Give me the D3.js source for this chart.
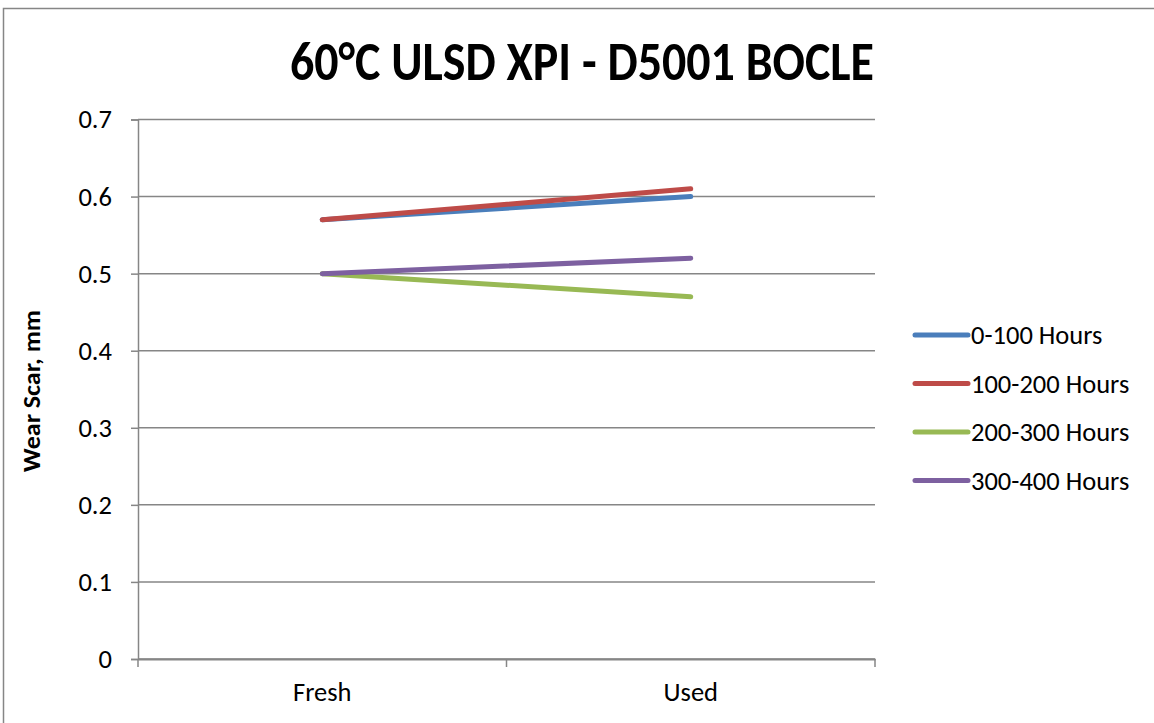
<!DOCTYPE html>
<html><head><meta charset="utf-8">
<script src="https://cdn.jsdelivr.net/npm/d3@7"></script>
<style>body{margin:0;background:#fff;overflow:hidden}svg{display:block}</style>
</head><body>
<svg id="c" width="1154" height="723"></svg>
<script>
const categories = ["Fresh", "Used"];
const seriesNames = ["0-100 Hours", "100-200 Hours", "200-300 Hours", "300-400 Hours"];
const s0 = [0.57, 0.60];
const s1 = [0.57, 0.61];
const s2 = [0.50, 0.47];
const s3 = [0.50, 0.52];
const yTicks = [0, 0.1, 0.2, 0.3, 0.4, 0.5, 0.6, 0.7];
const colors = ["#4A7EBB", "#BE4B48", "#98B954", "#7D60A0"];
const series = [s0, s1, s2, s3];

const svg = d3.select("#c");
const font = "Carlito, 'Liberation Sans', 'Open Sans', sans-serif";
// chart border
svg.append("rect").attr("x", 3.5).attr("y", 8.5).attr("width", 1160).attr("height", 730)
  .attr("fill", "#fff").attr("stroke", "#868686").attr("stroke-width", 1.5);

const L = 138, R = 875, T = 119.5, B = 659;
const x = d3.scaleBand().domain(categories).range([L, R]);
const y = d3.scaleLinear().domain([0, 0.7]).range([B, T]);

// gridlines
svg.append("g").selectAll("line").data(yTicks).join("line")
  .attr("x1", L).attr("x2", R).attr("y1", d => y(d)).attr("y2", d => y(d))
  .attr("stroke", "#868686").attr("stroke-width", 1.5);

// y axis
const ya = svg.append("g").attr("transform", `translate(${L},0)`)
  .call(d3.axisLeft(y).tickValues(yTicks).tickSize(7).tickPadding(19).tickFormat(d => d === 0 ? "0" : d3.format(".1f")(d)));
ya.select(".domain").attr("stroke", "#868686").attr("stroke-width", 1.5);
ya.selectAll(".tick line").attr("stroke", "#868686").attr("stroke-width", 1.5);
ya.selectAll("text").attr("font-family", font).attr("font-size", 26.5).attr("fill", "#000");

// x axis
const xa = svg.append("g").attr("transform", `translate(0,${B})`)
  .call(d3.axisBottom(x).tickSize(0).tickPadding(23));
xa.select(".domain").attr("stroke", "#868686").attr("stroke-width", 2);
xa.selectAll("text").attr("font-family", font).attr("font-size", 26.5).attr("fill", "#000");
const bounds = [L, ...categories.map(c => x(c) + x.bandwidth())];
xa.selectAll(".xt").data(bounds).join("line").attr("class", "xt")
  .attr("x1", d => d).attr("x2", d => d).attr("y1", 0).attr("y2", 8)
  .attr("stroke", "#868686").attr("stroke-width", 1.5);

// lines
const line = d3.line().x((d, i) => x(categories[i]) + x.bandwidth() / 2).y(d => y(d));
svg.append("g").selectAll("path").data(series).join("path")
  .attr("d", d => line(d)).attr("fill", "none")
  .attr("stroke", (d, i) => colors[i]).attr("stroke-width", 5).attr("stroke-linecap", "round");

// title
svg.append("text").attr("x", 582).attr("y", 80).attr("text-anchor", "middle")
  .attr("font-family", font).attr("font-weight", "bold").attr("font-size", 54)
  .attr("textLength", 584).attr("lengthAdjust", "spacingAndGlyphs")
  .text("60°C ULSD XPI - D5001 BOCLE");

// y title
svg.append("text").attr("transform", "translate(40,391) rotate(-90)").attr("text-anchor", "middle")
  .attr("font-family", font).attr("font-weight", "bold").attr("font-size", 24)
  .attr("textLength", 162).attr("lengthAdjust", "spacingAndGlyphs")
  .text("Wear Scar, mm");

// legend
const lg = svg.append("g").selectAll("g").data(seriesNames).join("g")
  .attr("transform", (d, i) => `translate(915,${335 + i * 48.5})`);
lg.append("line").attr("x1", 0).attr("x2", 53).attr("y1", 0).attr("y2", 0)
  .attr("stroke", (d, i) => colors[i]).attr("stroke-width", 5).attr("stroke-linecap", "round");
lg.append("text").attr("x", 56).attr("y", 9).attr("font-family", font).attr("font-size", 26.5)
  .attr("fill", "#000").text(d => d);
</script>
</body></html>
